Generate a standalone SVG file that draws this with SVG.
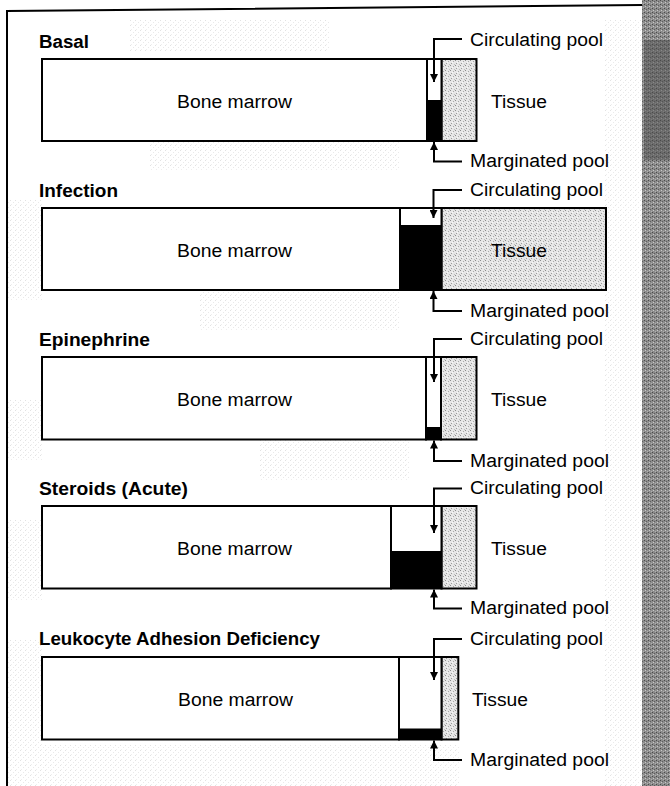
<svg xmlns="http://www.w3.org/2000/svg" width="670" height="786" viewBox="0 0 670 786">
  <defs>
    <pattern id="speck" width="5" height="5" patternUnits="userSpaceOnUse">
      <rect width="5" height="5" fill="#ffffff"/>
      <rect x="0" y="0" width="1" height="1" fill="#a0a0a0"/>
      <rect x="3" y="2" width="1" height="1" fill="#b8b8b8"/>
      <rect x="1" y="4" width="1" height="1" fill="#c8c8c8"/>
    </pattern>
    <pattern id="tissue" width="5" height="5" patternUnits="userSpaceOnUse">
      <rect width="5" height="5" fill="#e6e6e6"/>
      <rect x="0" y="0" width="1" height="1" fill="#8a8a8a"/>
      <rect x="3" y="1" width="1" height="1" fill="#a8a8a8"/>
      <rect x="1" y="3" width="1" height="1" fill="#9c9c9c"/>
      <rect x="4" y="4" width="1" height="1" fill="#bdbdbd"/>
      <rect x="2" y="2" width="1" height="1" fill="#f8f8f8"/>
    </pattern>
    <pattern id="dark" width="4" height="4" patternUnits="userSpaceOnUse">
      <rect width="4" height="4" fill="#8c8c8c"/>
      <rect x="0" y="0" width="1" height="1" fill="#4a4a4a"/>
      <rect x="2" y="1" width="1" height="1" fill="#5e5e5e"/>
      <rect x="1" y="2" width="1" height="1" fill="#c8c8c8"/>
      <rect x="3" y="3" width="1" height="1" fill="#b0b0b0"/>
    </pattern>
    <marker id="ah" viewBox="0 0 10 10" refX="10" refY="5" markerUnits="userSpaceOnUse" markerWidth="12" markerHeight="8" orient="auto">
      <path d="M0,0 L10,5 L0,10 z" fill="#000"/>
    </marker>
  </defs>
  <style>
    .box { fill: #ffffff; stroke: #000; stroke-width: 2; }
    .tis { fill: url(#tissue); stroke: #000; stroke-width: 2; }
    .blk { fill: #000; }
    .ttl { font-family: "Liberation Sans", Arial, sans-serif; font-weight: bold; font-size: 18px; fill: #000; }
    .lbl { font-family: "Liberation Sans", Arial, sans-serif; font-size: 18px; fill: #000; }
    .conn { fill: none; stroke: #000; stroke-width: 2; }
  </style>

  <!-- background -->
  <rect width="670" height="786" fill="#ffffff"/>
  <g id="background" opacity="0.3">
    <rect x="130" y="20" width="200" height="32" fill="url(#speck)"/>
    <rect x="150" y="140" width="250" height="30" fill="url(#speck)"/>
    <rect x="200" y="290" width="200" height="40" fill="url(#speck)"/>
    <rect x="8" y="200" width="34" height="100" fill="url(#speck)"/>
    <rect x="8" y="400" width="34" height="60" fill="url(#speck)"/>
    <rect x="8" y="520" width="34" height="80" fill="url(#speck)"/>
    <rect x="8" y="640" width="34" height="146" fill="url(#speck)"/>
    <rect x="40" y="745" width="420" height="41" fill="url(#speck)"/>
    <rect x="260" y="440" width="150" height="40" fill="url(#speck)"/>
    <rect x="605" y="20" width="37" height="766" fill="url(#speck)"/>
  </g>
  <rect id="right-strip" x="642" y="0" width="28" height="786" fill="url(#dark)"/>
  <rect x="644" y="40" width="26" height="120" fill="#4a4a4a" opacity="0.5"/>
  <path id="frame" d="M7,786 V11 L642,5" fill="none" stroke="#000" stroke-width="2"/>

  <!-- Basal -->
  <g id="basal">
    <text class="ttl" x="39" y="48" textLength="50" lengthAdjust="spacingAndGlyphs">Basal</text>
    <rect class="box" x="42" y="59" width="385" height="82"/>
    <rect class="tis" x="441.5" y="59" width="35" height="82"/>
    <rect class="box" x="427" y="59" width="14.5" height="82"/>
    <rect class="blk" x="427" y="100" width="14.5" height="41"/>
    <text class="lbl" x="177" y="108" textLength="115" lengthAdjust="spacingAndGlyphs">Bone marrow</text>
    <text class="lbl" x="491" y="108" textLength="56" lengthAdjust="spacingAndGlyphs">Tissue</text>
    <text class="lbl" x="470" y="46" textLength="133" lengthAdjust="spacingAndGlyphs">Circulating pool</text>
    <text class="lbl" x="470" y="167" textLength="139" lengthAdjust="spacingAndGlyphs">Marginated pool</text>
  </g>

  <!-- Infection -->
  <g id="infection">
    <text class="ttl" x="39" y="197" textLength="79" lengthAdjust="spacingAndGlyphs">Infection</text>
    <rect class="box" x="42" y="208" width="358" height="82"/>
    <rect class="tis" x="441.5" y="208" width="164.5" height="82"/>
    <rect class="box" x="400" y="208" width="41.5" height="82"/>
    <rect class="blk" x="400" y="225" width="41.5" height="65"/>
    <text class="lbl" x="177" y="257" textLength="115" lengthAdjust="spacingAndGlyphs">Bone marrow</text>
    <text class="lbl" x="491" y="257" textLength="56" lengthAdjust="spacingAndGlyphs">Tissue</text>
    <text class="lbl" x="470" y="196" textLength="133" lengthAdjust="spacingAndGlyphs">Circulating pool</text>
    <text class="lbl" x="470" y="317" textLength="139" lengthAdjust="spacingAndGlyphs">Marginated pool</text>
  </g>

  <!-- Epinephrine -->
  <g id="epinephrine">
    <text class="ttl" x="39" y="346" textLength="111" lengthAdjust="spacingAndGlyphs">Epinephrine</text>
    <rect class="box" x="42" y="357" width="384" height="82.5"/>
    <rect class="tis" x="441" y="357" width="35.5" height="82.5"/>
    <rect class="box" x="426" y="357" width="15" height="82.5"/>
    <rect class="blk" x="426" y="427" width="15" height="12.5"/>
    <text class="lbl" x="177" y="406" textLength="115" lengthAdjust="spacingAndGlyphs">Bone marrow</text>
    <text class="lbl" x="491" y="406" textLength="56" lengthAdjust="spacingAndGlyphs">Tissue</text>
    <text class="lbl" x="470" y="345" textLength="133" lengthAdjust="spacingAndGlyphs">Circulating pool</text>
    <text class="lbl" x="470" y="467" textLength="139" lengthAdjust="spacingAndGlyphs">Marginated pool</text>
  </g>

  <!-- Steroids (Acute) -->
  <g id="steroids">
    <text class="ttl" x="39" y="495" textLength="149" lengthAdjust="spacingAndGlyphs">Steroids (Acute)</text>
    <rect class="box" x="42" y="506" width="349" height="82.5"/>
    <rect class="tis" x="441.5" y="506" width="35" height="82.5"/>
    <rect class="box" x="391" y="506" width="50.5" height="82.5"/>
    <rect class="blk" x="391" y="551" width="50.5" height="37.5"/>
    <text class="lbl" x="177" y="555" textLength="115" lengthAdjust="spacingAndGlyphs">Bone marrow</text>
    <text class="lbl" x="491" y="555" textLength="56" lengthAdjust="spacingAndGlyphs">Tissue</text>
    <text class="lbl" x="470" y="494" textLength="133" lengthAdjust="spacingAndGlyphs">Circulating pool</text>
    <text class="lbl" x="470" y="614" textLength="139" lengthAdjust="spacingAndGlyphs">Marginated pool</text>
  </g>

  <!-- Leukocyte Adhesion Deficiency -->
  <g id="lad">
    <text class="ttl" x="39" y="645" textLength="281" lengthAdjust="spacingAndGlyphs">Leukocyte Adhesion Deficiency</text>
    <rect class="box" x="42" y="657" width="357" height="82.5"/>
    <rect class="tis" x="441.5" y="657" width="16.8" height="82.5"/>
    <rect class="box" x="399" y="657" width="42.5" height="82.5"/>
    <rect class="blk" x="399" y="728.5" width="42.5" height="11"/>
    <text class="lbl" x="178" y="706" textLength="115" lengthAdjust="spacingAndGlyphs">Bone marrow</text>
    <text class="lbl" x="472" y="706" textLength="56" lengthAdjust="spacingAndGlyphs">Tissue</text>
    <text class="lbl" x="470" y="645" textLength="133" lengthAdjust="spacingAndGlyphs">Circulating pool</text>
    <text class="lbl" x="470" y="766" textLength="139" lengthAdjust="spacingAndGlyphs">Marginated pool</text>
  </g>

  <!-- connectors -->
  <g id="connectors" class="conn">
    <path class="conn" d="M462,39 H434 V82" marker-end="url(#ah)"/>
    <path class="conn" d="M462,161.5 H434 V142" marker-end="url(#ah)"/>
    <path class="conn" d="M462,190 H433.5 V218" marker-end="url(#ah)"/>
    <path class="conn" d="M462,311 H433.5 V291" marker-end="url(#ah)"/>
    <path class="conn" d="M462,339 H434 V382" marker-end="url(#ah)"/>
    <path class="conn" d="M462,461 H434 V440.5" marker-end="url(#ah)"/>
    <path class="conn" d="M462,488.5 H434 V533" marker-end="url(#ah)"/>
    <path class="conn" d="M462,608.5 H434 V589.5" marker-end="url(#ah)"/>
    <path class="conn" d="M462,639 H434 V680" marker-end="url(#ah)"/>
    <path class="conn" d="M462,760 H434 V740.5" marker-end="url(#ah)"/>
  </g>
</svg>
